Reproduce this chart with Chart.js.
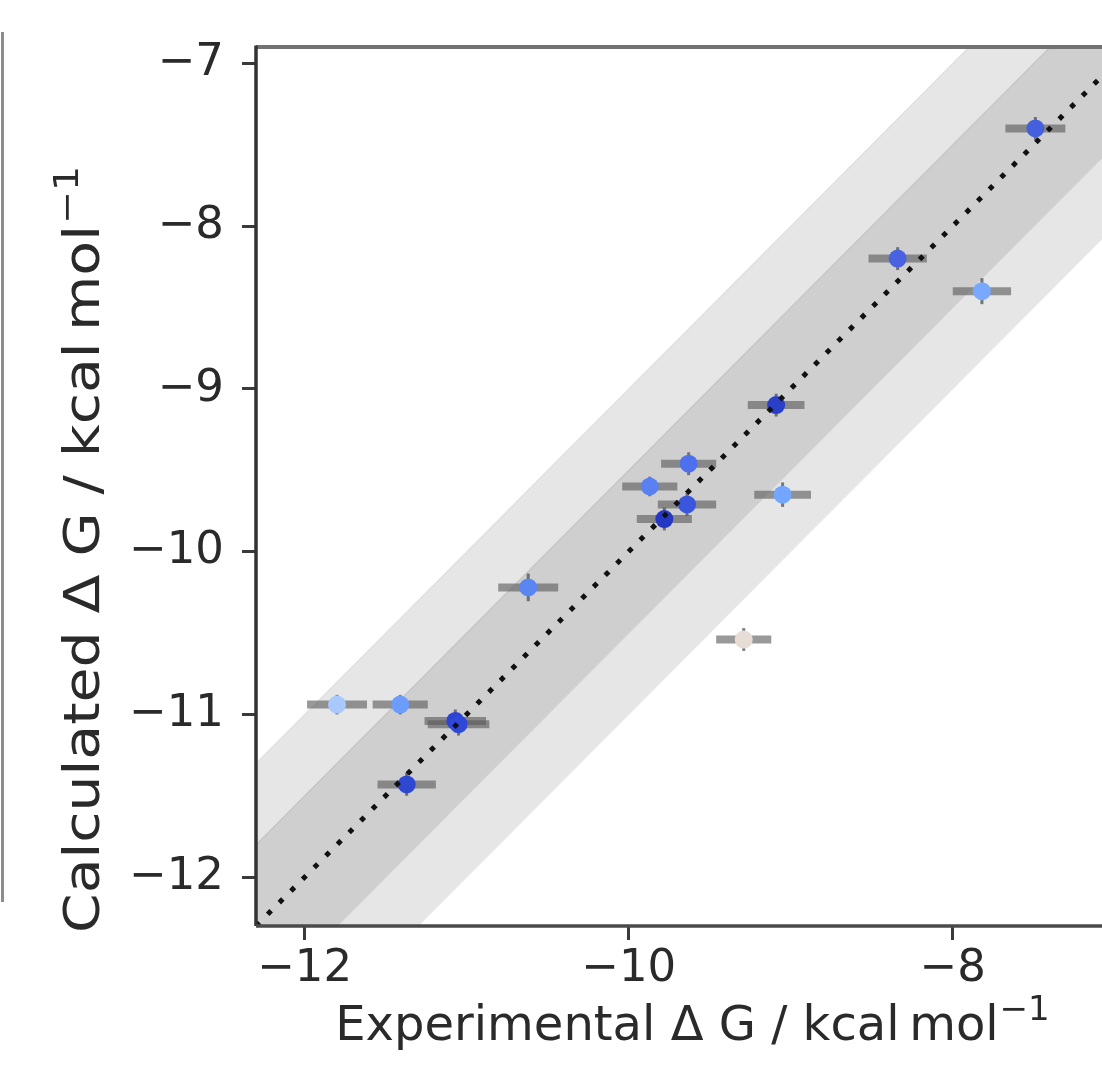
<!DOCTYPE html>
<html>
<head>
<meta charset="utf-8">
<script src="https://cdn.jsdelivr.net/npm/chart.js@4.4.0/dist/chart.umd.min.js"></script>
<style>
  html, body { margin: 0; padding: 0; background: #fff; overflow: hidden; }
  #wrap { position: relative; width: 1102px; height: 1073px; overflow: hidden; }
  #edge { position: absolute; left: 1px; top: 32px; height: 870px; border-left: 3px solid #8c8c8c; }
  canvas { position: absolute; left: 0; top: 0; }
</style>
</head>
<body>
<div id="wrap">
  <div id="edge"></div>
  <canvas id="dgChart" width="1140" height="1073"></canvas>
</div>
<script>
// binding free energies, kcal/mol
const expDG  = [-7.49, -8.34, -7.82, -9.09, -9.63, -9.87, -9.64, -9.78, -9.05, -10.62, -9.29, -11.80, -11.41, -11.07, -11.05, -11.37];
const calcDG = [-7.40, -8.20, -8.40, -9.10, -9.46, -9.60, -9.71, -9.80, -9.65, -10.22, -10.54, -10.94, -10.94, -11.04, -11.06, -11.43];
const expErr  = [0.185, 0.18, 0.18, 0.175, 0.17, 0.17, 0.18, 0.17, 0.175, 0.185, 0.17, 0.185, 0.17, 0.19, 0.19, 0.18];
const calcErr = [0.07, 0.07, 0.08, 0.07, 0.07, 0.06, 0.07, 0.07, 0.075, 0.085, 0.07, 0.06, 0.06, 0.07, 0.07, 0.07];
const pointColors = ['#4460dc', '#4862e0', '#78a8ff', '#2a3fc8', '#4f70ec', '#5b80f2', '#3a56dc', '#2438c4',
                     '#72a6ff', '#5a86f4', '#e8ddd6', '#a9c8fc', '#6d9cff', '#2d43d4', '#3048d8', '#2e48d2'];

const axisMin = -12.3, axisMax = -6.9;
const xTicks = [-12, -10, -8];
const yTicks = [-12, -11, -10, -9, -8, -7];
const bandInner = 0.5, bandOuter = 1.0;

const FONT = "'DejaVu Sans', sans-serif";
const TEXT = '#2a2a2a';

function band(off) {
  return [{ x: axisMin, y: axisMin + off }, { x: axisMax, y: axisMax + off }];
}
function fmt(v) {
  return v < 0 ? '\u2212' + Math.abs(v) : String(v);
}

const errorBars = {
  id: 'errorBars',
  beforeDatasetDraw(chart, args) {
    if (args.meta.label !== 'ligands') return;
    const { ctx, chartArea: a, scales: { x, y } } = chart;
    ctx.save();
    ctx.beginPath();
    ctx.rect(a.left, a.top, a.width, a.height);
    ctx.clip();
    ctx.lineCap = 'butt';
    ctx.strokeStyle = 'rgba(90,90,90,0.62)';
    ctx.lineWidth = 8;
    expDG.forEach((v, i) => {
      const py = y.getPixelForValue(calcDG[i]);
      ctx.beginPath();
      ctx.moveTo(x.getPixelForValue(v - expErr[i]), py);
      ctx.lineTo(x.getPixelForValue(v + expErr[i]), py);
      ctx.stroke();
    });
    ctx.strokeStyle = 'rgba(70,70,70,0.7)';
    ctx.lineWidth = 3;
    expDG.forEach((v, i) => {
      const px = x.getPixelForValue(v);
      ctx.beginPath();
      ctx.moveTo(px, y.getPixelForValue(calcDG[i] - calcErr[i]));
      ctx.lineTo(px, y.getPixelForValue(calcDG[i] + calcErr[i]));
      ctx.stroke();
    });
    ctx.restore();
  }
};

// axes frame and axis titles
function drawLabel(ctx, main, sup, size) {
  ctx.font = size + 'px ' + FONT;
  const wMain = ctx.measureText(main).width;
  ctx.font = Math.round(size * 0.7) + 'px ' + FONT;
  const wSup = ctx.measureText(sup).width;
  const x0 = -(wMain + wSup) / 2;
  ctx.textAlign = 'left';
  ctx.textBaseline = 'alphabetic';
  ctx.font = size + 'px ' + FONT;
  ctx.fillText(main, x0, 0);
  ctx.font = Math.round(size * 0.7) + 'px ' + FONT;
  ctx.fillText(sup, x0 + wMain + 1, -size * 0.42);
}

const frame = {
  id: 'frame',
  afterDatasetsDraw(chart) {
    const { ctx, chartArea: a } = chart;
    ctx.save();
    ctx.lineWidth = 4;
    ctx.strokeStyle = '#727272';
    ctx.beginPath();
    ctx.moveTo(a.left, a.top);
    ctx.lineTo(a.right, a.top);
    ctx.stroke();
    ctx.lineWidth = 3.5;
    ctx.strokeStyle = '#333';
    ctx.beginPath();
    ctx.moveTo(a.left, a.top - 1.5);
    ctx.lineTo(a.left, a.bottom);
    ctx.stroke();
    ctx.strokeStyle = '#4a4a4a';
    ctx.beginPath();
    ctx.moveTo(a.left, a.bottom);
    ctx.lineTo(a.right, a.bottom);
    ctx.stroke();
    ctx.restore();
  },
  afterDraw(chart) {
    const { ctx } = chart;
    ctx.save();
    ctx.fillStyle = TEXT;
    ctx.translate(692, 1040);
    drawLabel(ctx, 'Experimental \u0394 G / kcal\u2009mol', '\u22121', 48);
    ctx.restore();
    // y title is drawn a bit elongated along its length
    ctx.save();
    ctx.fillStyle = TEXT;
    ctx.translate(99, 550);
    ctx.rotate(-Math.PI / 2);
    ctx.scale(1.16, 1);
    drawLabel(ctx, 'Calculated \u0394 G / kcal\u2009mol', '\u22121', 49);
    ctx.restore();
  }
};

const tickGrid = {
  display: true,
  drawOnChartArea: false,
  drawTicks: true,
  tickLength: 14,
  tickWidth: 3,
  tickColor: '#3a3a3a'
};

new Chart(document.getElementById('dgChart'), {
  type: 'scatter',
  data: {
    datasets: [
      {
        label: 'diagonal',
        data: band(0),
        showLine: true,
        borderColor: '#111',
        borderWidth: 5,
        borderDash: [5, 11.5],
        pointRadius: 0,
        order: 1
      },
      {
        label: 'ligands',
        data: expDG.map((v, i) => ({ x: v, y: calcDG[i] })),
        pointRadius: 9,
        pointHoverRadius: 9,
        pointBorderWidth: 0,
        pointBackgroundColor: pointColors,
        order: 2
      },
      {
        label: 'inner upper',
        data: band(bandInner),
        showLine: true,
        fill: '+1',
        backgroundColor: '#cfcfcf',
        borderColor: 'rgba(0,0,0,0.07)',
        borderWidth: 1.5,
        pointRadius: 0,
        order: 3
      },
      {
        label: 'inner lower',
        data: band(-bandInner),
        showLine: true,
        borderColor: 'rgba(0,0,0,0.07)',
        borderWidth: 1.5,
        pointRadius: 0,
        order: 4
      },
      {
        label: 'outer upper',
        data: band(bandOuter),
        showLine: true,
        fill: '+1',
        backgroundColor: '#e6e6e6',
        borderColor: 'rgba(0,0,0,0.06)',
        borderWidth: 1.5,
        pointRadius: 0,
        order: 5
      },
      {
        label: 'outer lower',
        data: band(-bandOuter),
        showLine: true,
        borderColor: 'rgba(0,0,0,0.06)',
        borderWidth: 1.5,
        pointRadius: 0,
        order: 6
      }
    ]
  },
  options: {
    responsive: false,
    animation: false,
    devicePixelRatio: 1,
    layout: { padding: { top: 47, right: 7, left: 0, bottom: 0 } },
    plugins: {
      legend: { display: false },
      tooltip: { enabled: false }
    },
    scales: {
      x: {
        type: 'linear',
        min: axisMin,
        max: axisMax,
        afterBuildTicks: s => { s.ticks = xTicks.map(v => ({ value: v })); },
        afterFit: s => { s.height = 147; },
        grid: tickGrid,
        border: { display: false },
        ticks: {
          callback: fmt,
          color: TEXT,
          padding: 2,
          maxRotation: 0,
          font: { family: FONT, size: 45 }
        }
      },
      y: {
        type: 'linear',
        min: axisMin,
        max: axisMax,
        afterBuildTicks: s => { s.ticks = yTicks.map(v => ({ value: v })); },
        afterFit: s => { s.width = 256; },
        grid: tickGrid,
        border: { display: false },
        ticks: {
          callback: fmt,
          color: TEXT,
          padding: 18,
          font: { family: FONT, size: 45 }
        }
      }
    }
  },
  plugins: [errorBars, frame]
});
</script>
</body>
</html>
